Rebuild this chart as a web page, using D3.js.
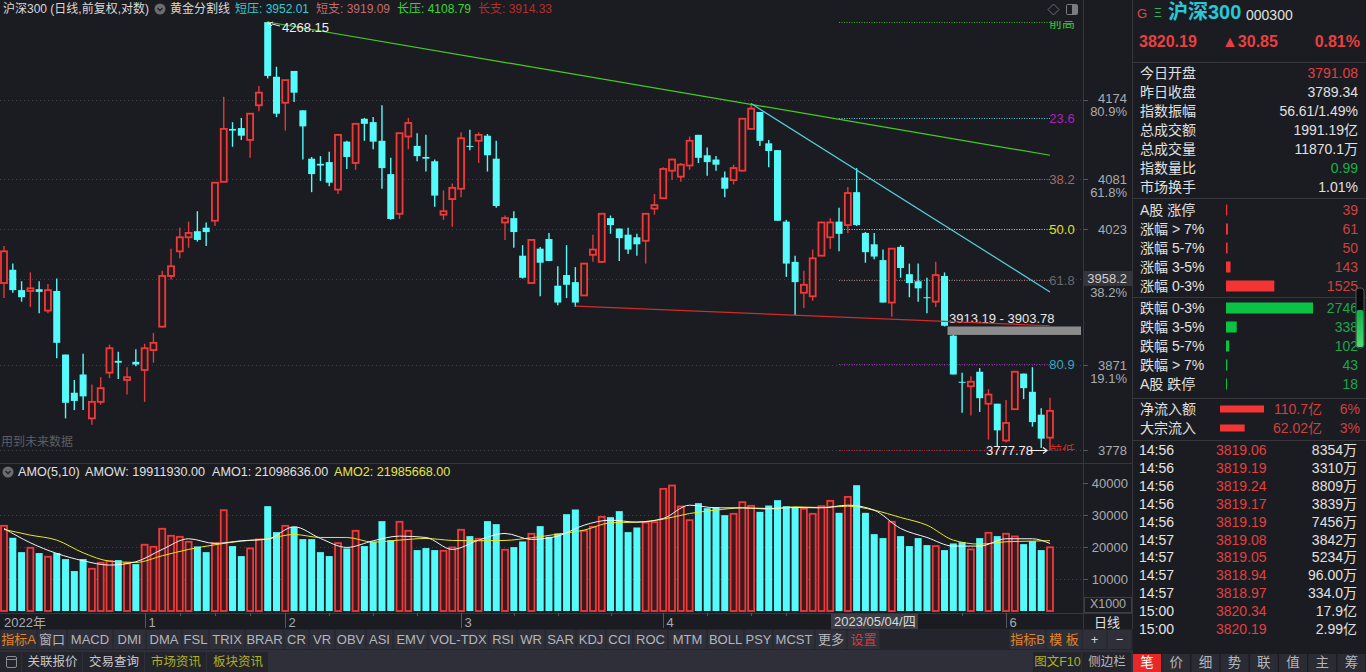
<!DOCTYPE html>
<html>
<head>
<meta charset="utf-8">
<title>沪深300</title>
<script src="https://cdn.jsdelivr.net/npm/d3@7"></script>
<style>
	html, body { margin: 0; padding: 0; background: #1b1c21; overflow: hidden; }
	svg { display: block; }
	text { font-family: 'Liberation Sans', 'Noto Sans CJK SC', sans-serif; }
</style>
</head>
<body>
<div id="chart"></div>
<script>
// daily candles
const opens = [3962,3977,3954,3953,3955,3931,3953,3882,3840,3860,
	3812,3830,3862,3875,3854,3874,3865,3887,3913,3970,
	3998,4014,4021,4025,4033,4078,4140,4141,4127,4168,
	4268,4202,4171,4209,4162,4105,4099,4101,4069,4125,
	4100,4152,4148,4126,4087,4041,4131,4120,4107,4102,
	4040,4058,4070,4120,4126,4132,4105,4031,4036,3993,
	3962,4001,4012,3959,3971,3963,3948,3994,3986,4036,
	4024,4017,4014,4010,4047,4059,4091,4084,4097,4133,
	4109,4104,4083,4080,4091,4140,4160,4123,4115,4032,
	3986,3951,3947,3993,4014,4032,4028,4066,4019,4006,
	3988,3940,4003,3972,3964,3946,3941,3970,3903,3852,
	3847,3863,3828,3828,3788,3822,3861,3841,3816,3791.08];
const closes = [3998,3954,3946,3956,3952,3954,3895,3829,3831,3836,
	3830,3845,3889,3873,3857,3871,3889,3895,3970,3981,
	4014,4019,4011,4020,4077,4140,4138,4132,4158,4183,
	4203,4158,4198,4183,4143,4087,4097,4077,4133,4107,
	4146,4146,4125,4094,4035,4135,4147,4108,4105,4062,
	4044,4071,4129,4119,4133,4109,4050,4036,4020,3968,
	4011,3985,3987,3940,3960,3940,3984,4000,4041,4028,
	4013,4000,4006,4041,4051,4093,4104,4098,4126,4106,
	4101,4098,4070,4094,4152,4164,4126,4114,4033,3984,
	3963,3960,3990,4031,4031,4018,4065,4028,3997,3992,
	3940,4001,3979,3962,3956,3945,3971,3914,3860,3851,
	3852,3834,3838,3799,3807,3863,3845,3808,3790,3820.19];
const highs = [4004,3984,3964,3974,3964,3961,3967,3882,3854,3883,
	3849,3857,3893,3885,3868,3888,3894,3906,3976,4001,
	4025,4032,4044,4031,4077,4178,4148,4153,4158,4191,
	4268.15,4214,4198,4209,4162,4107,4108,4113,4133,4126,
	4147,4153,4154,4168,4106,4135,4153,4135,4133,4104,
	4068,4076,4136,4139,4136,4134,4126,4039,4044,4005,
	4011,4003,4019,3981,4005,3980,3984,4017,4041,4039,
	4024,4025,4018,4041,4064,4095,4105,4100,4131,4133,
	4118,4108,4090,4098,4152,4170,4160,4127,4115,4034,
	3993,3976,4000,4032,4036,4048,4072,4094,4020,4019,
	4000,4001,4005,3984,3984,3968,3986,3974,3903.78,3862,
	3858,3867,3844,3828,3832,3864,3861,3868,3823,3834.39];
const lows = [3945,3951,3941,3935,3928,3928,3878,3812,3821,3821,
	3805,3827,3856,3855,3838,3869,3830,3873,3912,3966,
	3990,4002,4009,4004,4027,4078,4119,4127,4106,4161,
	4200,4154,4138,4172,4104,4066,4079,4073,4064,4093,
	4092,4126,4116,4070,4034,4035,4116,4102,4090,4049,
	4034,4026,4060,4115,4100,4090,4048,4011,4002,3967,
	3962,3947,3987,3937,3945,3935,3948,3986,3985,4018,
	3987,3995,3993,3984,4040,4058,4080,4078,4092,4100,
	4085,4091,4060,4075,4091,4140,4120,4095,4033,3969,
	3926,3934,3942,3993,4001,3998,4019,4027,3985,3989,
	3940,3924,3968,3946,3941,3928,3935,3913.19,3860,3818,
	3815,3819,3789,3781,3786,3822,3833,3803,3780,3777.78];
// turnover, in thousands (axis says X1000)
const amounts = [26620,22880,18400,19760,18100,16950,18100,16220,12480,16220,
	13200,15080,15600,15900,14870,14660,20700,20070,25690,23500,
	23190,21630,20180,18400,21200,31500,20280,17160,19550,22360,
	32760,24650,26620,26310,22460,22460,18400,17160,21200,19550,
	25060,20280,21630,28080,22150,27870,25060,19030,19660,19030,
	18820,19860,25380,23400,22570,28080,27140,19140,19970,21740,
	24130,26520,23190,24230,30260,31720,25060,26310,29430,29330,
	31200,24650,26100,27660,27770,38170,39210,32660,28390,33700,
	32140,32450,29950,30370,34010,32860,30990,32970,34630,32760,
	32450,31930,30370,32760,34420,30680,35670,39310,30680,24020,
	22780,27870,23400,20280,22780,20590,20280,19030,21110,21530,
	19240,22780,24440,23400,24130,23300,20900,21840,19030,19912];
// the two average lines, read every third day
const amoDays = d3.range(0, 118, 3).concat([119]);
const amo1 = [25790,21320,17990,15700,14350,15390,19240,22570,21110,21940,22460,26310,22670,19860,
	21940,23400,22980,19240,22150,24230,22360,23400,26830,28390,27770,28910,33070,32240,
	32240,32030,32340,32240,33070,31510,25790,22980,20280,20280,22570,22570,21099];
const amo2 = [25480,23710,22150,18200,15600,15180,17260,19240,20700,21840,22570,23920,22980,22980,
	21530,22150,22670,22050,21940,22050,22880,24020,25270,27560,27770,28700,30470,31510,
	32240,31820,32550,32340,32760,31510,29220,26830,22150,20900,21630,21840,21986];

const peakPrice = 4268.15;
const troughPrice = 3777.78;
const fibRatios = [0, 0.236, 0.382, 0.5, 0.618, 0.809, 1];
const fibLabels = ['前高', '23.6', '38.2', '50.0', '61.8', '80.9', '前低'];
const fibLineColors = ['#3fae2a', '#5fd0e0', '#a07878', '#d8d820', '#b08080', '#a030c0', '#c02828'];
const fibTextColors = ['#30d030', '#b020c0', '#a86868', '#e0e030', '#666a70', '#30a8c8', '#d02828'];
// trend lines as [day, price]
const greenTrend = [[30, 4268.15], [119, 4109]];
const cyanTrend = [[85, 4170], [119, 3952]];
const redTrend = [[65, 3936], [119, 3914]];

const priceTicks = [4174, 4081, 4023, 3871, 3778];
const priceTickPct = ['80.9%', '61.8%', '', '19.1%', ''];
const gridPrices = [4174, 4081, 4023, 3966, 3871, 3778];
const amountTicks = [40000, 30000, 20000, 10000];
const monthDays = [16, 32, 52, 75, 114];
const monthLabels = ['1', '2', '3', '4', '6'];
const weekDays = [20, 24, 28, 37, 42, 47, 58, 63, 69, 80, 85, 89, 109];

const quoteLabels = ['今日开盘', '昨日收盘', '指数振幅', '总成交额', '总成交量', '指数量比', '市场换手'];
const quoteValues = ['3791.08', '3789.34', '56.61/1.49%', '1991.19亿', '11870.1万', '0.99', '1.01%'];
const upLabels = ['A股 涨停', '涨幅 > 7%', '涨幅 5-7%', '涨幅 3-5%', '涨幅 0-3%'];
const upCounts = [39, 61, 50, 143, 1525];
const downLabels = ['跌幅 0-3%', '跌幅 3-5%', '跌幅 5-7%', '跌幅 > 7%', 'A股 跌停'];
const downCounts = [2746, 338, 102, 43, 18];
const flowLabels = ['净流入额', '大宗流入'];
const flowValues = [110.7, 62.02];
const flowTexts = ['110.7亿', '62.02亿'];
const flowPct = ['6%', '3%'];
const tickTimes = ['14:56', '14:56', '14:56', '14:56', '14:56', '14:57', '14:57', '14:57', '14:57', '15:00', '15:00'];
const tickPrices = ['3819.06', '3819.19', '3819.24', '3819.17', '3819.19', '3819.08', '3819.05', '3818.94', '3818.97', '3820.34', '3820.19'];
const tickVols = ['8354万', '3310万', '8809万', '3839万', '7456万', '3842万', '5234万', '96.00万', '334.0万', '17.9亿', '2.99亿'];
const tabLabels = ['笔', '价', '细', '势', '联', '值', '主', '筹'];
const toolLabels = ['指标A', '窗口', 'MACD', 'DMI', 'DMA', 'FSL', 'TRIX', 'BRAR', 'CR', 'VR', 'OBV', 'ASI', 'EMV', 'VOL-TDX', 'RSI', 'WR', 'SAR', 'KDJ', 'CCI', 'ROC', 'MTM', 'BOLL', 'PSY', 'MCST', '更多', '设置'];
const toolEdges = [0, 37, 67, 113, 146, 182, 209, 245, 284, 309, 335, 366, 393, 428, 489, 517, 545, 576, 606, 633, 668, 707, 744, 773, 815, 847, 880];
const toolRight = ['指标B', '模 板', '+', '−'];
const toolRightEdges = [1009, 1046, 1082, 1107, 1132];
const bottomLabels = ['关联报价', '交易查询', '市场资讯', '板块资讯'];
const bottomEdges = [22, 83, 145, 207, 269];

const RED = '#f03a3a', CYAN = '#55fbfb', BG = '#1b1c21', GRAY = '#a9abb0';
const width = 1366, height = 672;

const svg = d3.select('#chart').append('svg').attr('width', width).attr('height', height);
svg.append('rect').attr('width', width).attr('height', height).attr('fill', BG);
svg.append('defs').append('clipPath').attr('id', 'pane').append('rect')
	.attr('x', 0).attr('y', 21).attr('width', 1083).attr('height', 430);

const x = d3.scaleLinear().domain([0, 119]).range([4, 1050]);
const y = d3.scaleLog().domain([troughPrice, peakPrice]).range([450, 22]);
const yAmo = d3.scaleLinear().domain([0, 40000]).range([611, 483]);

const days = d3.range(opens.length);
const isUp = (i) => closes[i] >= opens[i];

const addText = (parent, str, px, py, size, fill, anchor) =>
	parent.append('text').attr('x', px).attr('y', py).attr('font-size', size).attr('fill', fill)
		.attr('text-anchor', anchor || 'start').attr('dominant-baseline', 'central').text(str);

// frame lines
const frame = svg.append('g').attr('stroke', '#35373d').attr('stroke-width', 1);
[[1083.5, 0, 1083.5, 629], [1132.5, 0, 1132.5, 672], [0, 463.5, 1132, 463.5], [0, 613.5, 1132, 613.5],
	[1133, 62.5, 1366, 62.5], [1133, 198.5, 1366, 198.5], [1133, 297.5, 1366, 297.5], [1133, 398.5, 1366, 398.5], [1133, 440.5, 1366, 440.5]]
	.forEach((l) => frame.append('line').attr('x1', l[0]).attr('y1', l[1]).attr('x2', l[2]).attr('y2', l[3]));

// dotted grid
svg.append('g').selectAll('line').data(gridPrices).enter().append('line')
	.attr('x1', 0).attr('x2', 1083)
	.attr('y1', (d) => Math.round(y(d)) + 0.5).attr('y2', (d) => Math.round(y(d)) + 0.5)
	.attr('stroke', '#404248').attr('stroke-dasharray', '1,3');
svg.append('g').selectAll('line').data(amountTicks.slice(1)).enter().append('line')
	.attr('x1', 0).attr('x2', 1083)
	.attr('y1', (d) => Math.round(yAmo(d)) + 0.5).attr('y2', (d) => Math.round(yAmo(d)) + 0.5)
	.attr('stroke', '#404248').attr('stroke-dasharray', '1,3');

// golden section levels
const fibPrice = (r) => peakPrice - r * (peakPrice - troughPrice);
const fib = svg.append('g').attr('clip-path', 'url(#pane)');
fibRatios.forEach((r, k) => {
	const py = Math.round(y(fibPrice(r))) + 0.5;
	fib.append('line').attr('x1', x(95)).attr('x2', x(119))
		.attr('y1', py).attr('y2', py)
		.attr('stroke', fibLineColors[k]).attr('stroke-dasharray', '1,1.5');
	addText(fib, fibLabels[k], 1062, py, 13, fibTextColors[k], 'middle');
});

// candles
const candles = svg.append('g').selectAll('g').data(days).enter().append('g');
candles.append('line')
	.attr('x1', (i) => x(i)).attr('x2', (i) => x(i))
	.attr('y1', (i) => y(highs[i])).attr('y2', (i) => y(lows[i]))
	.attr('stroke', (i) => (isUp(i) ? '#e03a3a' : CYAN)).attr('stroke-width', 1.4);
candles.append('rect')
	.attr('x', (i) => x(i) - (isUp(i) ? 3 : 3.5))
	.attr('width', (i) => (isUp(i) ? 6 : 7))
	.attr('y', (i) => y(Math.max(opens[i], closes[i])))
	.attr('height', (i) => Math.max(1, Math.abs(y(opens[i]) - y(closes[i]))))
	.attr('fill', (i) => (isUp(i) ? '#26191d' : CYAN))
	.attr('stroke', (i) => (isUp(i) ? RED : 'none')).attr('stroke-width', 1.8);

// gap between 3913.19 and 3903.78
svg.append('rect').attr('x', x(107) + 3).attr('width', 1081 - x(107) - 3)
	.attr('y', y(3913.19)).attr('height', y(3903.78) - y(3913.19)).attr('fill', '#8c8c8c');
addText(svg, '3913.19 - 3903.78', 949, 318, 13, '#e8e8e8');

// trend lines
const trendLine = d3.line().x((d) => x(d[0])).y((d) => y(d[1]));
[[greenTrend, '#45cc20'], [cyanTrend, '#55d0e0'], [redTrend, '#d02c2c']].forEach((t) => {
	svg.append('path').attr('d', trendLine(t[0])).attr('fill', 'none').attr('stroke', t[1]).attr('stroke-width', 1.2);
});

// peak and trough notes
addText(svg, '4268.15', 282, 27, 13, '#f0f0f0');
svg.append('path').attr('d', 'M273,22L267.5,24M268,21.5L272,26M272,24L280,26').attr('stroke', '#e8e8e8').attr('fill', 'none');
addText(svg, '3777.78', 986, 450, 13, '#f0f0f0');
svg.append('path').attr('d', 'M1031,450.5H1047M1043,447.5L1047,450.5L1043,453.5').attr('stroke', '#f0f0f0').attr('fill', 'none').attr('stroke-width', 1.2);
addText(svg, '用到未来数据', 1, 442, 12, '#5c5e63');

// top legend
addText(svg, '沪深300 (日线,前复权,对数)', 3, 8.5, 12, '#d8d8d8');
svg.append('circle').attr('cx', 160).attr('cy', 9).attr('r', 5.5).attr('fill', '#6a6c70');
svg.append('path').attr('d', 'M157.5,8L160,10.5L162.5,8').attr('stroke', '#222').attr('fill', 'none').attr('stroke-width', 1.3);
addText(svg, '黄金分割线', 170, 8.5, 12, '#d8d8d8');
addText(svg, '短压: 3952.01', 235, 8.5, 12, '#35c8d8');
addText(svg, '短支: 3919.09', 316, 8.5, 12, '#c86a6a');
addText(svg, '长压: 4108.79', 397, 8.5, 12, '#35d835');
addText(svg, '长支: 3914.33', 478, 8.5, 12, '#b82c2c');
svg.append('path').attr('d', 'M1053.5,4L1059,9.5L1053.5,15L1048,9.5Z').attr('stroke', '#6a6c70').attr('fill', 'none');
svg.append('rect').attr('x', 1066.5).attr('y', 4.5).attr('width', 11).attr('height', 10).attr('rx', 1).attr('stroke', '#7a7c80').attr('fill', 'none');
svg.append('rect').attr('x', 1072).attr('y', 5).attr('width', 5).attr('height', 9).attr('fill', '#7a7c80');

// price axis
const axisG = svg.append('g');
priceTicks.forEach((p, k) => {
	const py = Math.round(y(p));
	axisG.append('line').attr('x1', 1083).attr('x2', 1088).attr('y1', py + 0.5).attr('y2', py + 0.5).attr('stroke', '#55575c');
	addText(axisG, p, 1127, k === 0 ? 98 : py, 13, GRAY, 'end');
	if (priceTickPct[k]) addText(axisG, priceTickPct[k], 1127, (k === 0 ? 98 : py) + 13, 13, GRAY, 'end');
});
axisG.append('rect').attr('x', 1084).attr('y', 271).attr('width', 48).attr('height', 15).attr('fill', '#34353b');
addText(axisG, '3958.2', 1127, 278.5, 13, '#d0d0d0', 'end');
addText(axisG, '38.2%', 1127, 292, 13, GRAY, 'end');

// AMO pane
svg.append('circle').attr('cx', 8).attr('cy', 472).attr('r', 5.5).attr('fill', '#6a6c70');
svg.append('path').attr('d', 'M5.5,471L8,473.5L10.5,471').attr('stroke', '#222').attr('fill', 'none').attr('stroke-width', 1.3);
addText(svg, 'AMO(5,10)', 18, 471.5, 12.6, '#e0e0e0');
addText(svg, 'AMOW: 19911930.00', 85, 471.5, 12.6, '#e0e0e0');
addText(svg, 'AMO1: 21098636.00', 212, 471.5, 12.6, '#e0e0e0');
addText(svg, 'AMO2: 21985668.00', 334, 471.5, 12.6, '#e6e640');

svg.append('g').selectAll('rect').data(days).enter().append('rect')
	.attr('x', (i) => x(i) - (isUp(i) ? 3 : 3.5))
	.attr('width', (i) => (isUp(i) ? 6 : 7))
	.attr('y', (i) => yAmo(amounts[i]))
	.attr('height', (i) => yAmo(0) - yAmo(amounts[i]))
	.attr('fill', (i) => (isUp(i) ? '#3a1a1f' : CYAN))
	.attr('stroke', (i) => (isUp(i) ? RED : 'none')).attr('stroke-width', 1.8);

const amoLine = (vals) => d3.line().curve(d3.curveMonotoneX)
	.x((d, k) => x(amoDays[k])).y((d) => yAmo(d))(vals);
svg.append('path').attr('d', amoLine(amo2)).attr('fill', 'none').attr('stroke', '#e8e820').attr('stroke-width', 1);
svg.append('path').attr('d', amoLine(amo1)).attr('fill', 'none').attr('stroke', '#f4f4f4').attr('stroke-width', 1);

amountTicks.forEach((v) => {
	const py = Math.round(yAmo(v));
	svg.append('line').attr('x1', 1083).attr('x2', 1088).attr('y1', py + 0.5).attr('y2', py + 0.5).attr('stroke', '#55575c');
	addText(svg, v, 1128, py, 13, GRAY, 'end');
});
svg.append('rect').attr('x', 1084.5).attr('y', 597.5).attr('width', 47).attr('height', 15).attr('fill', 'none').attr('stroke', '#3c3e45');
addText(svg, 'X1000', 1108, 603.5, 12.5, GRAY, 'middle');
addText(svg, '日线', 1107, 622, 13, '#e0e0e0', 'middle');

// date axis
const dateG = svg.append('g');
addText(dateG, '2022年', 4, 622, 13, GRAY);
weekDays.forEach((d) => {
	dateG.append('line').attr('x1', Math.round(x(d)) + 0.5).attr('x2', Math.round(x(d)) + 0.5).attr('y1', 613).attr('y2', 616).attr('stroke', '#55575c');
});
monthDays.forEach((d, k) => {
	const px = Math.round(x(d)) + 0.5;
	dateG.append('line').attr('x1', px).attr('x2', px).attr('y1', 613).attr('y2', 628).attr('stroke', '#55575c');
	addText(dateG, monthLabels[k], px + 3, 622, 13, GRAY);
});
dateG.append('rect').attr('x', 831).attr('y', 614).attr('width', 87).attr('height', 15).attr('fill', '#3c3d45');
addText(dateG, '2023/05/04/四', 834, 621.5, 13, '#d8d8d8');

// toolbars
const toolBar = svg.append('g');
toolBar.append('rect').attr('x', 0).attr('y', 629).attr('width', 1133).attr('height', 21).attr('fill', '#24252c');
toolBar.append('rect').attr('x', 0).attr('y', 650).attr('width', 1133).attr('height', 22).attr('fill', '#2e2f38');
const toolButton = (label, x0, x1, py, h, fill) => {
	toolBar.append('rect').attr('x', x0 + 0.5).attr('y', py).attr('width', x1 - x0 - 1).attr('height', h).attr('fill', '#2e2f38');
	addText(toolBar, label, (x0 + x1) / 2, py + h / 2, 13, fill, 'middle');
};
toolLabels.forEach((l, k) => {
	const fill = k === 0 ? '#e08428' : k === 25 ? '#d83a3a' : '#b4b6bc';
	toolButton(l, toolEdges[k], toolEdges[k + 1], 630, 19, fill);
});
toolRight.forEach((l, k) => {
	toolButton(l, toolRightEdges[k], toolRightEdges[k + 1], 630, 19, k < 2 ? '#e08428' : '#d0d0d0');
});
toolBar.append('rect').attr('x', 0).attr('y', 652).attr('width', 21).attr('height', 20).attr('fill', '#24252c');
toolBar.append('rect').attr('x', 6.5).attr('y', 656.5).attr('width', 10).attr('height', 11).attr('rx', 1.5).attr('fill', 'none').attr('stroke', '#8a8c90');
toolBar.append('line').attr('x1', 6).attr('x2', 17).attr('y1', 659.5).attr('y2', 659.5).attr('stroke', '#8a8c90');
bottomLabels.forEach((l, k) => {
	const x0 = bottomEdges[k], x1 = bottomEdges[k + 1];
	toolBar.append('rect').attr('x', x0).attr('y', 652).attr('width', x1 - x0 - 1).attr('height', 20).attr('fill', '#24252c');
	addText(toolBar, l, (x0 + x1) / 2, 661.5, 12.5, k < 2 ? '#c4c6ca' : '#b0b020', 'middle');
});
[['图文F10', 1033, 1082, '#b0b020'], ['侧边栏', 1082, 1132, '#b4b6bc']].forEach((b) => {
	toolBar.append('rect').attr('x', b[1]).attr('y', 652).attr('width', b[2] - b[1] - 1).attr('height', 20).attr('fill', '#24252c');
	addText(toolBar, b[0], (b[1] + b[2]) / 2, 661.5, 12.5, b[3], 'middle');
});

// side panel
const side = svg.append('g');
addText(side, 'G', 1137, 13, 13, '#e04848');
addText(side, 'Ξ', 1154, 13, 12, '#38b060');
addText(side, '沪深300', 1168, 12, 20, '#28c8d8').attr('font-weight', 'bold');
addText(side, '000300', 1246, 14.5, 14, '#e0e0e0');
addText(side, '3820.19', 1139, 41, 16, '#e84040').attr('font-weight', 'bold');
addText(side, '▲30.85', 1222, 41, 16, '#e84040').attr('font-weight', 'bold');
addText(side, '0.81%', 1360, 41, 16, '#e84040', 'end').attr('font-weight', 'bold');

const rowStep = 19;
quoteLabels.forEach((l, k) => {
	const py = 73 + k * rowStep;
	addText(side, l, 1140, py, 14, '#e0e0e0');
	addText(side, quoteValues[k], 1358, py, 14, k === 0 ? '#e04040' : k === 5 ? '#18b048' : '#e0e0e0', 'end');
});

const breadth = d3.scaleLinear().domain([0, 2746]).range([0, 87]);
const addBreadth = (labels, counts, y0, color, txt) => {
	labels.forEach((l, k) => {
		const py = y0 + k * rowStep;
		addText(side, l, 1140, py, 14, '#e0e0e0');
		side.append('rect').attr('x', 1226).attr('y', py - 5.5).attr('height', 11)
			.attr('width', Math.max(1, breadth(counts[k]))).attr('fill', color);
		addText(side, counts[k], 1358, py, 14, txt, 'end');
	});
};
addBreadth(upLabels, upCounts, 210, '#f53535', '#d04040');
addBreadth(downLabels, downCounts, 308, '#0cc244', '#18a848');

const flowWidth = d3.scaleLinear().domain([0, 110.7]).range([0, 44]);
flowLabels.forEach((l, k) => {
	const py = 409 + k * rowStep;
	addText(side, l, 1140, py, 14, '#e0e0e0');
	side.append('rect').attr('x', 1220).attr('y', py - 3.5).attr('height', 7).attr('width', flowWidth(flowValues[k])).attr('fill', '#f53535');
	addText(side, flowTexts[k], 1322, py, 14, '#d04040', 'end');
	addText(side, flowPct[k], 1360, py, 14, '#d04040', 'end');
});

// little level gauge on the breadth rows
const gaugeGrad = svg.append('defs').append('linearGradient').attr('id', 'gauge').attr('x2', 0).attr('y2', 1);
gaugeGrad.append('stop').attr('offset', '0%').attr('stop-color', '#0cb044');
gaugeGrad.append('stop').attr('offset', '100%').attr('stop-color', '#4fdc70');
side.append('rect').attr('x', 1356).attr('y', 288).attr('width', 8).attr('height', 60).attr('rx', 3).attr('fill', '#0a0a0c').attr('stroke', '#55575c');
side.append('rect').attr('x', 1356.5).attr('y', 310).attr('width', 7).attr('height', 37).attr('rx', 2).attr('fill', 'url(#gauge)');

tickTimes.forEach((t, k) => {
	const py = 450 + k * 17.9;
	addText(side, t, 1139, py, 14, '#e4e4e4');
	addText(side, tickPrices[k], 1216, py, 14, '#e04040');
	addText(side, tickVols[k], 1357, py, 14, '#e0e0e0', 'end');
});

tabLabels.forEach((l, k) => {
	const x0 = 1133 + k * 29.2;
	side.append('rect').attr('x', x0).attr('y', 654).attr('width', 28).attr('height', 18).attr('fill', k === 0 ? '#e82828' : '#2a2b33');
	addText(side, l, x0 + 14, 662.5, 13.5, k === 0 ? '#ffffff' : '#b4b6bc', 'middle');
});
</script>
</body>
</html>
